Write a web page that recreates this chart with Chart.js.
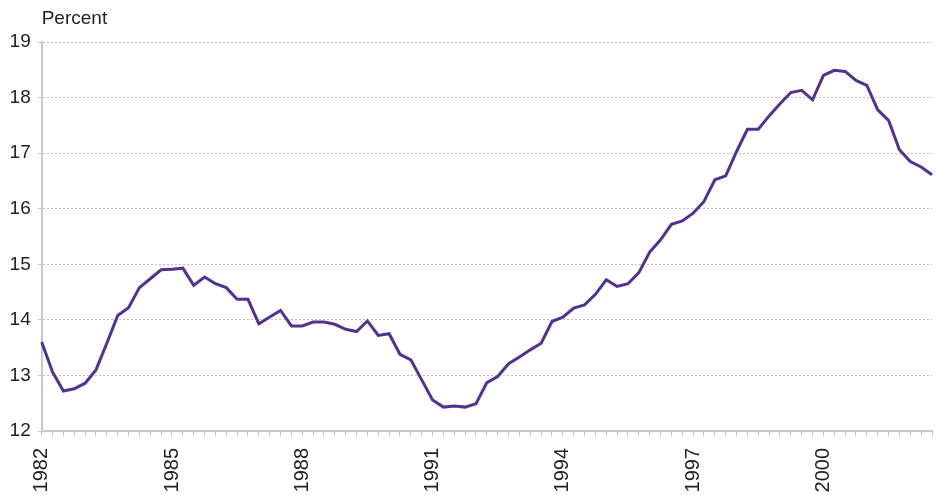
<!DOCTYPE html>
<html>
<head>
<meta charset="utf-8">
<script src="https://cdn.jsdelivr.net/npm/chart.js@4/dist/chart.umd.min.js"></script>
<style>
  html, body { margin: 0; padding: 0; background: #fff; }
  #wrap { width: 936px; height: 495px; }
</style>
</head>
<body>
<div id="wrap"><canvas id="chart" width="936" height="495"></canvas></div>
<script>
const firstYear = 1982;
const quarterCount = 83; // 1982 Q1 .. 2002 Q3
const tickYears = ['1982', '1985', '1988', '1991', '1994', '1997', '2000'];
const yTicks = [12, 13, 14, 15, 16, 17, 18, 19];

const rate = [
  13.60, 13.06, 12.72, 12.76, 12.86, 13.10, 13.58, 14.08, 14.22, 14.58,
  14.74, 14.90, 14.91, 14.93, 14.62, 14.77, 14.65, 14.58, 14.37, 14.37,
  13.93, 14.05, 14.17, 13.89, 13.89, 13.96, 13.96, 13.92, 13.83, 13.79,
  13.98, 13.72, 13.75, 13.38, 13.28, 12.92, 12.56, 12.43, 12.45, 12.43,
  12.49, 12.87, 12.98, 13.21, 13.33, 13.46, 13.58, 13.97, 14.05, 14.21,
  14.27, 14.46, 14.72, 14.60, 14.65, 14.85, 15.22, 15.44, 15.72, 15.78,
  15.92, 16.13, 16.52, 16.59, 17.03, 17.43, 17.43, 17.67, 17.89, 18.09,
  18.13, 17.96, 18.40, 18.49, 18.47, 18.31, 18.22, 17.78, 17.59, 17.06,
  16.85, 16.75, 16.61
];

const labels = [];
for (let i = 0; i < quarterCount; i++) {
  labels.push((firstYear + Math.floor(i / 4)) + ' Q' + (i % 4 + 1));
}

const axisGray = '#c8c8c8';
const textColor = '#222';
const fontFamily = '"Liberation Sans", Arial, Helvetica, sans-serif';

// "Percent" unit label over the y axis
const unitLabel = {
  id: 'unitLabel',
  afterDraw(chart) {
    const ctx = chart.ctx;
    ctx.save();
    ctx.fillStyle = textColor;
    ctx.font = '19px ' + fontFamily;
    ctx.textAlign = 'left';
    ctx.textBaseline = 'middle';
    ctx.fillText('Percent', chart.chartArea.left, 19);
    ctx.restore();
  }
};

new Chart(document.getElementById('chart'), {
  type: 'line',
  data: {
    labels: labels,
    datasets: [{
      data: rate,
      borderColor: '#51328f',
      borderWidth: 3,
      pointRadius: 0,
      tension: 0,
      fill: false
    }]
  },
  options: {
    responsive: false,
    animation: false,
    layout: { padding: { top: 42, left: 0, right: 4, bottom: 0 } },
    plugins: {
      legend: { display: false },
      tooltip: { enabled: false }
    },
    scales: {
      x: {
        offset: false,
        afterFit: (scale) => {
          scale.height = 64;
          scale.paddingLeft = 0;
          scale.paddingRight = 0;
        },
        border: { color: axisGray, width: 2 },
        grid: {
          drawOnChartArea: false,
          color: axisGray,
          tickLength: 5,
          lineWidth: 1
        },
        ticks: {
          autoSkip: false,
          maxRotation: 90,
          minRotation: 90,
          padding: 12,
          color: textColor,
          font: { family: fontFamily, size: 20 },
          callback: function (value) {
            const lab = this.getLabelForValue(value);
            const yr = lab.slice(0, 4);
            return (lab.endsWith('Q1') && tickYears.includes(yr)) ? yr : '';
          }
        }
      },
      y: {
        min: 12,
        max: 19,
        afterFit: (scale) => { scale.width = 41.7; },
        afterBuildTicks: (scale) => { scale.ticks = yTicks.map(v => ({ value: v })); },
        border: { color: axisGray, width: 2, dash: [2, 2] },
        grid: {
          color: '#bdbdbd',
          lineWidth: 1,
          tickColor: axisGray,
          tickLength: 4,
          tickBorderDash: []
        },
        ticks: {
          padding: 7,
          color: textColor,
          font: { family: fontFamily, size: 19 }
        }
      }
    }
  },
  plugins: [unitLabel]
});
</script>
</body>
</html>
